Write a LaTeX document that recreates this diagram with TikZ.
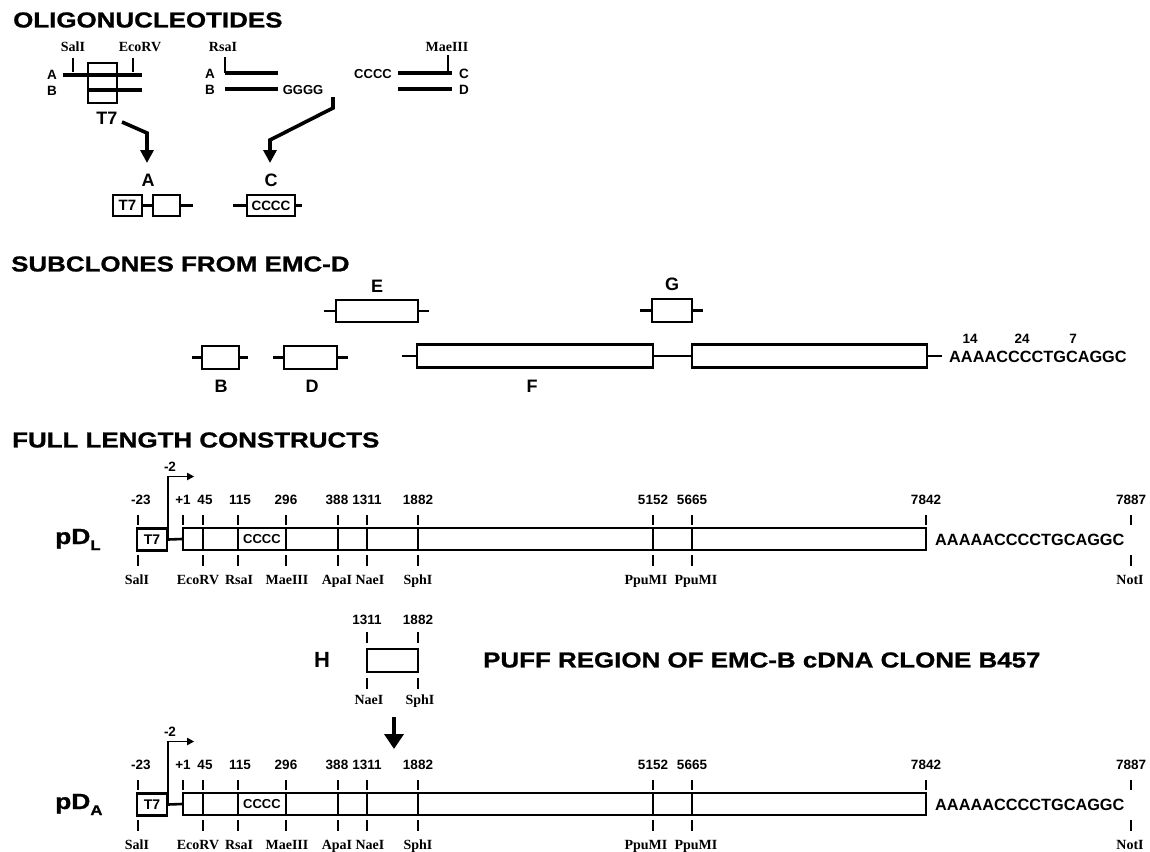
\documentclass[tikz,border=0pt]{standalone}
\usepackage{fontspec}
\setmainfont{Liberation Sans}
\newfontfamily\widef[FakeStretch=1.2,FakeBold=1]{Liberation Sans}
\newfontfamily\enzf{Liberation Serif}
\usetikzlibrary{arrows.meta}
\tikzset{
  ttl/.style={anchor=west, inner sep=0pt, font=\widef\bfseries\fontsize{21.6}{24}\selectfont},
  num/.style={inner sep=0pt, font=\bfseries\fontsize{13.5}{15}\selectfont, text height=9.7pt, text depth=0pt},
  enz/.style={inner sep=0pt, font=\enzf\bfseries\fontsize{14}{16}\selectfont, text height=9.3pt, text depth=0pt},
  bigl/.style={inner sep=0pt, font=\bfseries\fontsize{18}{20}\selectfont, text height=12.9pt, text depth=0pt},
  sml/.style={inner sep=0pt, font=\bfseries\fontsize{13.5}{15}\selectfont, text height=9.7pt, text depth=0pt},
  seqt/.style={inner sep=0pt, anchor=west, font=\bfseries\fontsize{16.3}{18}\selectfont, text height=11.7pt, text depth=0pt},
  pdl/.style={inner sep=0pt, font=\widef\bfseries\fontsize{22}{24}\selectfont},
  bx/.style={draw, line width=2.4pt, inner sep=0pt, minimum height=22pt},
  dna/.style={line width=3.3pt},
  tck/.style={line width=2pt},
  lnk/.style={line width=2.6pt},
  divl/.style={line width=2pt},
  fat/.style={line width=3.6pt, -{Triangle[length=13pt,width=13pt]}, line join=miter},
  prom/.style={line width=1.8pt, -{Triangle[length=7pt,width=7pt]}},
}
\newcommand\construct[3]{%
\begin{scope}[yshift=#2]
  \node[pdl, anchor=base west] (pd#1) at (55,544) {pD\raisebox{-6pt}{\fontsize{14}{14}\selectfont #3}};
  \node[bx, minimum width=30pt, font=\bfseries\fontsize{14}{15}\selectfont] (tseven#1) at (152,539.5) {T7};
  \node[bx, minimum width=743pt] (main#1) at (554.5,539) {};
  \draw[lnk] (tseven#1.east) -- (main#1.west);
  \foreach \x in {203,238,286,338,367,418,653,692} \draw[divl] (\x,528) -- (\x,550);
  \node[sml, font=\bfseries\fontsize{13}{14}\selectfont] (cc#1) at (262,539) {CCCC};
  \draw[prom] (tseven#1.east) -- ++(0,-63) -- ++(26,0);
  \node[num] (mtwo#1) at (170,467) {-2};
  \foreach \x in {138,183,203,238,286,338,367,418,653,692,926,1131} \draw[tck] (\x,515) -- (\x,525);
  \foreach \x in {138,203,238,286,338,367,418,653,692,1131} \draw[tck] (\x,555) -- (\x,566);
  \foreach \x/\t [count=\i] in {141/-23,183/+1,205/45,240/115,286/296,337/388,367/1311,418/1882,653/5152,692/5665,926/7842,1131/7887}
    \node[num] (top#1\i) at (\x,500) {\t};
  \foreach \x/\t [count=\i] in {137/SalI,198/EcoRV,239/RsaI,287/MaeIII,337/ApaI,370/NaeI,418/SphI,646/PpuMI,696/PpuMI,1130/NotI}
    \node[enz] (bot#1\i) at (\x,580) {\t};
  \node[seqt] (seq#1) at (935,540) {AAAAACCCCTGCAGGC};
\end{scope}}
\begin{document}
\begin{tikzpicture}[x=1pt,y=-1pt]
\useasboundingbox (0,0) rectangle (1150,851);
% ---------- OLIGONUCLEOTIDES
\node[ttl] (t1) at (13,20) {OLIGONUCLEOTIDES};
% group 1
\draw[tck] (73,58) -- (73,72);
\draw[tck] (133,58) -- (133,72);
\node[enz] (sal) at (73,47) {SalI};
\node[enz] (eco) at (140,47) {EcoRV};
\draw[dna] (63,75) -- (142,75);
\draw[dna] (87,90) -- (142,90);
\node[draw, line width=2pt, minimum width=29pt, minimum height=40pt, inner sep=0pt] (obox) at (102.5,83) {};
\node[sml] (oa1) at (52,75) {A};
\node[sml] (ob1) at (52,91) {B};
\node[bigl] (ot7) at (107,118) {T7};
% group 2
\node[enz] (rsa) at (223,47) {RsaI};
\draw[tck] (225,57) -- (225,73);
\draw[dna] (225,73) -- (278,73);
\draw[dna] (225,89) -- (278,89);
\node[sml] (oa2) at (210,74) {A};
\node[sml] (ob2) at (210,90) {B};
\node[sml, font=\bfseries\fontsize{13}{14}\selectfont] (gggg) at (303,90) {GGGG};
% group 3
\node[sml, font=\bfseries\fontsize{13}{14}\selectfont] (cccc) at (373,74) {CCCC};
\draw[dna] (398,73) -- (452,73);
\draw[dna] (398,89) -- (452,89);
\draw[tck] (448,55) -- (448,71);
\node[enz] (mae) at (447,47) {MaeIII};
\node[sml] (oc3) at (464,74) {C};
\node[sml] (od3) at (464,90) {D};
% arrows
\coordinate (aa0) at (122,122);
\coordinate (aa1) at (147,163);
\draw[fat] (aa0) -- (147,133) -- (aa1);
\coordinate (ca0) at (333,97);
\coordinate (ca1) at (270,163);
\draw[fat] (ca0) -- (333,108) -- (270,140) -- (ca1);
\node[bigl] (la) at (148,180) {A};
\node[bigl] (lc) at (271,180) {C};
% products
\node[bx, minimum width=29pt, minimum height=21pt, font=\bfseries\fontsize{15}{16}\selectfont] (pt7) at (127.5,205.5) {T7};
\node[bx, minimum width=27pt, minimum height=21pt] (pbx) at (166.5,205.5) {};
\coordinate (pe1) at (193,205.5);
\draw[lnk] (pt7.east) -- (pbx.west);
\draw[lnk] (pbx.east) -- (pe1);
\coordinate (pc0) at (233,205.5);
\coordinate (pc1) at (302,205.5);
\node[bx, minimum width=48pt, minimum height=21pt, font=\bfseries\fontsize{13.5}{14}\selectfont] (pcc) at (271,205.5) {CCCC};
\draw[lnk] (pc0) -- (pcc.west);
\draw[lnk] (pcc.east) -- (pc1);
% ---------- SUBCLONES
\node[ttl] (t2) at (11,264) {SUBCLONES FROM EMC-D};
\node[bx, minimum width=82pt] (se) at (377,311) {};
\coordinate (se0) at (324,311); \coordinate (se1) at (429,311);
\draw[lnk] (se0) -- (se.west); \draw[lnk] (se.east) -- (se1);
\node[bigl] (lse) at (377,286) {E};
\node[bx, minimum width=40pt, minimum height=23pt] (sg) at (672,310.5) {};
\coordinate (sg0) at (640,310.5); \coordinate (sg1) at (703,310.5);
\draw[lnk] (sg0) -- (sg.west); \draw[lnk] (sg.east) -- (sg1);
\node[bigl] (lsg) at (672,284) {G};
\node[bx, minimum width=37pt, minimum height=23pt] (sb) at (220.5,357.5) {};
\coordinate (sb0) at (192,357.5); \coordinate (sb1) at (248,357.5);
\draw[lnk] (sb0) -- (sb.west); \draw[lnk] (sb.east) -- (sb1);
\node[bigl] (lsb) at (221,386) {B};
\node[bx, minimum width=53pt, minimum height=23pt] (sd) at (310.5,357.5) {};
\coordinate (sd0) at (273,357.5); \coordinate (sd1) at (348,357.5);
\draw[lnk] (sd0) -- (sd.west); \draw[lnk] (sd.east) -- (sd1);
\node[bigl] (lsd) at (312,386) {D};
\node[bx, minimum width=236pt, minimum height=23pt] (sf1) at (535,356) {};
\node[bx, minimum width=235pt, minimum height=23pt] (sf2) at (809.5,356) {};
\coordinate (sf0) at (402,356); \coordinate (sf3) at (942,356);
\draw[lnk] (sf0) -- (sf1.west);
\draw[lnk] (sf1.east) -- (sf2.west);
\draw[lnk] (sf2.east) -- (sf3);
\node[bigl] (lsf) at (532,386) {F};
\node[seqt] (sseq) at (949,357) {AAAACCCCTGCAGGC};
\node[num] (n14) at (970,339) {14};
\node[num] (n24) at (1022,339) {24};
\node[num] (n7) at (1073,339) {7};
% ---------- FULL LENGTH CONSTRUCTS
\node[ttl] (t3) at (12,440) {FULL LENGTH CONSTRUCTS};
\construct{L}{0pt}{L}
% H
\node[inner sep=0pt, font=\bfseries\fontsize{22}{24}\selectfont, text height=15.8pt, text depth=0pt] (hl) at (322,660) {H};
\node[bx, minimum width=51pt, minimum height=23pt] (hb) at (392.5,660.5) {};
\draw[tck] (367,632) -- (367,643);
\draw[tck] (418,632) -- (418,643);
\draw[tck] (367,678) -- (367,689);
\draw[tck] (418,678) -- (418,689);
\node[num] (h1) at (367,620) {1311};
\node[num] (h2) at (418,620) {1882};
\node[enz] (h3) at (369,700) {NaeI};
\node[enz] (h4) at (420,700) {SphI};
\node[ttl] (t4) at (483,660) {PUFF REGION OF EMC-B cDNA CLONE B457};
\coordinate (ha0) at (394,717);
\coordinate (ha1) at (394,749);
\draw[line width=4.5pt, -{Triangle[length=15pt,width=19pt]}] (ha0) -- (ha1);
\construct{A}{-265pt}{A}
\end{tikzpicture}
\end{document}
